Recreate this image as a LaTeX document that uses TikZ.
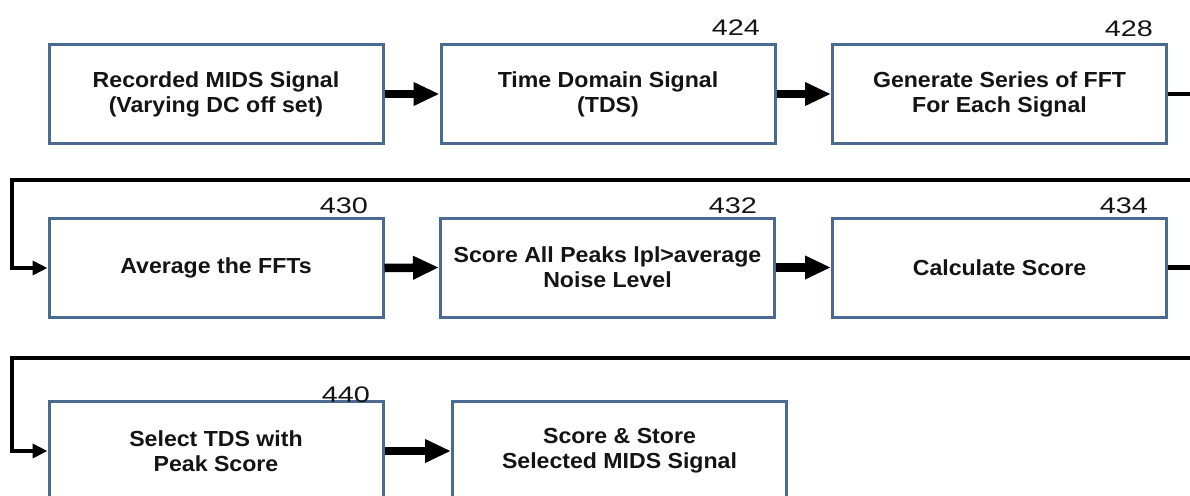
\documentclass[tikz,border=0pt]{standalone}
\usepackage{fontspec}
\usetikzlibrary{arrows.meta}
\newfontfamily\boxfont[FakeStretch=1.06]{Liberation Sans}
\newfontfamily\numfont[FakeStretch=1.28]{Liberation Sans}
\definecolor{boxblue}{HTML}{4B6A92}
\definecolor{inkblack}{HTML}{141414}
\tikzset{
  stepbox/.style={draw=boxblue, line width=3pt, fill=white, rectangle,
    minimum width=334pt, minimum height=99pt, inner sep=0pt, align=center,
    text=inkblack, font=\boxfont\bfseries\fontsize{21.8}{25}\selectfont},
  numlabel/.style={anchor=base east, inner sep=0pt, text=inkblack,
    font=\numfont\fontsize{22.5}{24}\selectfont},
  bigarrow/.style={draw=black, line width=8.5pt,
    -{Triangle[length=26pt,width=22pt]}},
  wraparrow/.style={draw=black, line width=4.5pt,
    -{Triangle[length=15pt,width=14pt]}}
}
\begin{document}
\begin{tikzpicture}[x=1pt, y=-1pt]
  \useasboundingbox (0,0) rectangle (1190,495);
  \clip (0,0) rectangle (1190,495);

  % first row
  \node[stepbox] (b1) at (216,94) {Recorded MIDS Signal\\(Varying DC off set)};
  \node[stepbox] (b2) at (608,94) {Time Domain Signal\\(TDS)};
  \node[stepbox] (b3) at (999.5,94) {Generate Series of FFT\\For Each Signal};

  % second row
  \node[stepbox] (b4) at (216,268) {Average the FFTs};
  \node[stepbox] (b5) at (607.5,267.5) {Score All Peaks lpl>average\\Noise Level};
  \node[stepbox] (b6) at (999.5,267.5) {Calculate Score};

  % third row
  \node[stepbox] (b7) at (216,451) {Select TDS with\\Peak Score};
  \node[stepbox] (b8) at (619.5,451) {Score \& Store\\Selected MIDS Signal};

  % reference numerals
  \node[numlabel] (n424) at (760,36) {424};
  \node[numlabel] (n428) at (1153,37) {428};
  \node[numlabel] (n430) at (368,213) {430};
  \node[numlabel] (n432) at (757,213) {432};
  \node[numlabel] (n434) at (1148,213) {434};
  \node[numlabel] (n440) at (370,402) {440};

  % arrows within a row
  \draw[bigarrow] (b1.east) -- (b2.west);
  \draw[bigarrow] (b2.east) -- (b3.west);
  \draw[bigarrow] (b4.east) -- (b5.west);
  \draw[bigarrow] (b5.east) -- (b6.west);
  \draw[bigarrow] (b7.east) -- (b8.west);

  % return lines between rows
  \coordinate (r1) at (1210,94);
  \coordinate (l1) at (12,180);
  \coordinate (r2) at (1210,267.5);
  \coordinate (l2) at (12,358);
  \draw[wraparrow] (b3.east) -- (r1) |- (l1) |- (b4.west);
  \draw[wraparrow] (b6.east) -- (r2) |- (l2) |- (b7.west);
\end{tikzpicture}
\end{document}
